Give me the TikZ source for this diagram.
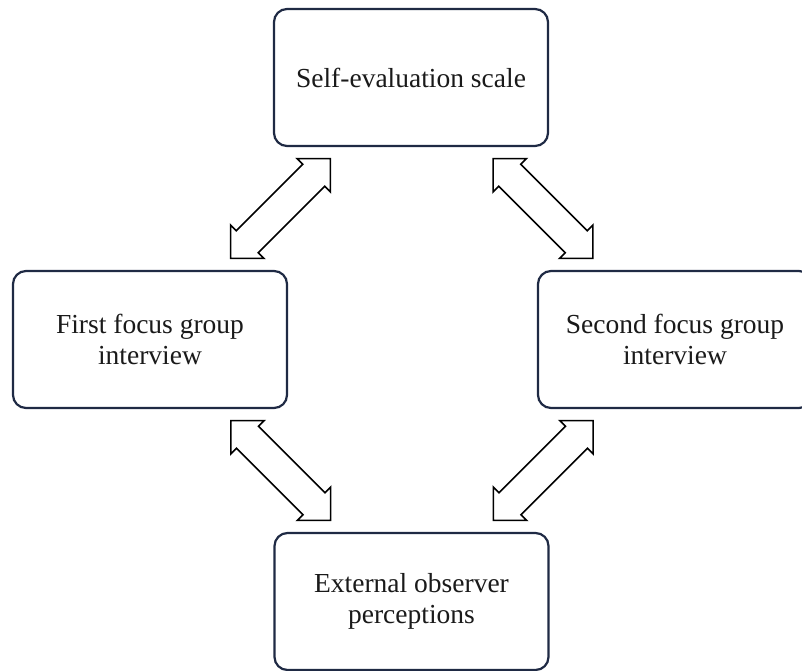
\documentclass[tikz,border=0pt]{standalone}
\usepackage{fontspec}
\setmainfont{Liberation Serif}
\usetikzlibrary{calc}
\definecolor{boxline}{HTML}{1F2A44}
\definecolor{txt}{HTML}{1A1A1A}
\tikzset{
  box/.style={draw=boxline, line width=2.2pt, rounded corners=13pt, fill=white,
    minimum width=274pt, minimum height=137pt, align=center, text=txt,
    font=\fontsize{27.5}{31}\selectfont},
  arrowline/.style={draw=black, fill=white, line width=1.6pt, line join=miter},
  dblarrow/.pic={\draw[arrowline] (70.5,0) -- (47,23.5) -- (47,15.5) -- (-47,15.5)
     -- (-47,23.5) -- (-70.5,0) -- (-47,-23.5) -- (-47,-15.5) -- (47,-15.5)
     -- (47,-23.5) -- cycle;}
}
\begin{document}
\begin{tikzpicture}[x=1pt,y=1pt]
\useasboundingbox (0,0) rectangle (802,-671);
\node[box] (top) at (411,-77.5) {Self-evaluation scale};
\node[box] (left) at (150,-339.5) {First focus group\\interview};
\node[box] (right) at (675,-339.5) {Second focus group\\interview};
\node[box] (bottom) at (411.5,-601.5) {External observer\\perceptions};
\path ($(top.south west)!0.5!(left.north east)$) pic[rotate=45] {dblarrow};
\path ($(top.south east)!0.5!(right.north west)$) pic[rotate=-45] {dblarrow};
\path ($(left.south east)!0.5!(bottom.north west)$) pic[rotate=-45] {dblarrow};
\path ($(right.south west)!0.5!(bottom.north east)$) pic[rotate=45] {dblarrow};
\end{tikzpicture}
\end{document}
